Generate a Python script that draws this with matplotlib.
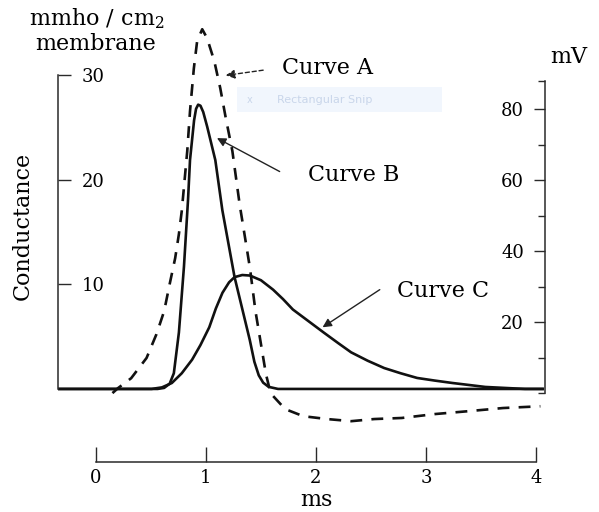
import matplotlib.pyplot as plt
from matplotlib.patches import Rectangle

plt.rcParams['font.family'] = 'DejaVu Serif'
plt.rcParams['mathtext.fontset'] = 'dejavuserif'

# Curve A (dashed): membrane potential, mV on the right axis
time_a = [0.15, 0.20, 0.32, 0.46, 0.55, 0.62, 0.67, 0.72, 0.754, 0.78, 0.83, 0.855,
          0.89, 0.92, 0.966, 1.01, 1.076, 1.13, 1.18, 1.24, 1.306, 1.35, 1.40, 1.45,
          1.50, 1.545, 1.59, 1.61, 1.72, 1.885, 2.10, 2.32, 2.53, 2.78, 3.08, 3.38,
          3.70, 4.04]
volt_a = [0.0, 1.4, 4.2, 9.9, 16.6, 23.1, 30.7, 38.0, 44.8, 51.3, 68.2, 79.4,
          91.5, 99.2, 102.5, 100.0, 93.5, 85.9, 77.5, 68.2, 53.2, 44.8, 35.2, 23.1,
          13.8, 5.4, -0.3, -0.8, -4.5, -6.5, -7.3, -7.9, -7.3, -7.0, -5.9, -5.1,
          -4.2, -3.7]

# Curve B: conductance, mmho/cm2 (left axis)
time_b = [-0.345, 0.56, 0.62, 0.67, 0.708, 0.754, 0.80, 0.837, 0.855, 0.892, 0.91,
          0.929, 0.95, 0.975, 1.011, 1.085, 1.149, 1.26, 1.398, 1.44, 1.48, 1.52,
          1.57, 1.655, 4.06]
cond_b = [0.0, 0.0, 0.1, 0.5, 1.5, 5.4, 11.7, 18.1, 21.9, 25.7, 26.8,
          27.2, 27.1, 26.5, 25.1, 21.9, 17.1, 10.7, 4.7, 2.6, 1.3, 0.6,
          0.2, 0.0, 0.0]

# Curve C: conductance, mmho/cm2 (left axis)
time_c = [-0.345, 0.506, 0.60, 0.69, 0.78, 0.874, 0.95, 1.03, 1.09, 1.15, 1.21,
          1.26, 1.33, 1.40, 1.50, 1.61, 1.70, 1.79, 1.93, 2.07, 2.20, 2.32, 2.47,
          2.62, 2.77, 2.92, 3.08, 3.24, 3.54, 3.9, 4.06]
cond_c = [0.0, 0.0, 0.15, 0.57, 1.5, 2.8, 4.2, 5.9, 7.7, 9.2, 10.2,
          10.7, 10.9, 10.85, 10.4, 9.5, 8.6, 7.6, 6.5, 5.4, 4.4, 3.5, 2.7,
          2.0, 1.5, 1.05, 0.8, 0.57, 0.19, 0.0, 0.0]

x_ticks = [0, 1, 2, 3, 4]
left_ticks = [10, 20, 30]
right_ticks = [20, 40, 60, 80]
right_minor = [0, 10, 30, 50, 70, 88]

W, H = 599, 512
fig = plt.figure(figsize=(W / 100, H / 100), dpi=100)
ax = fig.add_axes([58 / W, 50 / H, 487 / W, 442 / H])
ax.set_xlim(-0.345, 4.082)
ax.set_ylim(-6.99, 35.3)
ax2 = ax.twinx()
ax2.set_ylim(-19.4, 105.1)

spine_kw = dict(color='#2a2a2a', linewidth=1.1)
for s in ['top', 'right']:
    ax.spines[s].set_visible(False)
for s in ['top', 'left', 'bottom']:
    ax2.spines[s].set_visible(False)
ax.spines['left'].set_bounds(0, 30)
ax.spines['bottom'].set_bounds(0, 4)
ax2.spines['right'].set_bounds(0, 88)
for sp in [ax.spines['left'], ax.spines['bottom'], ax2.spines['right']]:
    sp.set(**spine_kw)

# curves
ax.plot(time_b, cond_b, color='#111111', lw=1.9, solid_joinstyle='round')
ax.plot(time_c, cond_c, color='#111111', lw=1.9, solid_joinstyle='round')
ax2.plot(time_a, volt_a, color='#111111', lw=1.9, linestyle=(0, (4.5, 3.5)))

# ticks
ax.set_xticks(x_ticks)
ax.tick_params(axis='x', direction='in', length=11, width=1, pad=5,
               labelsize=13, color='#2a2a2a')
ax.set_yticks(left_ticks)
ax.tick_params(axis='y', direction='in', length=9, width=1, pad=-17,
               labelsize=13, color='#2a2a2a')
for lbl in ax.get_yticklabels():
    lbl.set_horizontalalignment('left')

ax2.set_yticks(right_ticks)
ax2.set_yticks(right_minor, minor=True)
ax2.tick_params(axis='y', which='major', direction='in', length=8, width=1,
                pad=-15, labelsize=13, color='#2a2a2a')
ax2.tick_params(axis='y', which='minor', direction='in', length=5, width=1,
                color='#2a2a2a')
for lbl in ax2.get_yticklabels():
    lbl.set_horizontalalignment('right')

# axis texts
def ftext(x, y, s, **kw):
    fig.text(x / W, 1 - y / H, s, ha='center', va='center', **kw)

ftext(97, 19, r'mmho / cm$_2$', fontsize=16)
ftext(96, 44, 'membrane', fontsize=16)
ftext(23, 226, 'Conductance', fontsize=16, rotation=90)
ftext(569, 57, 'mV', fontsize=16)
ftext(316, 500, 'ms', fontsize=16)

# faint screen-capture box
fig.patches.append(Rectangle((237 / W, 1 - 112 / H), 205 / W, 25 / H,
                             transform=fig.transFigure, facecolor='#f1f6fd',
                             edgecolor='none', zorder=0))
ftext(250, 100, 'x', fontsize=7, color='#c9d6ea', family='DejaVu Sans')
ftext(325, 100, 'Rectangular Snip', fontsize=8, color='#c9d6ea',
      family='DejaVu Sans')

# curve labels with arrows
arrow = dict(arrowstyle='-|>', color='#222222', lw=1.0, mutation_scale=13,
             shrinkA=0, shrinkB=0)
ax.annotate('', xy=(1.18, 30.0), xytext=(1.52, 30.5),
            arrowprops=dict(arrow, linestyle=(0, (3, 2))))
ax.text(1.69, 30.7, 'Curve A', fontsize=16, va='center', ha='left')
ax.annotate('', xy=(1.10, 24.0), xytext=(1.67, 20.8), arrowprops=arrow)
ax.text(1.93, 20.5, 'Curve B', fontsize=16, va='center', ha='left')
ax.annotate('', xy=(2.06, 5.9), xytext=(2.58, 9.5), arrowprops=arrow)
ax.text(2.74, 9.4, 'Curve C', fontsize=16, va='center', ha='left')

fig.savefig('out.png', dpi=100)
